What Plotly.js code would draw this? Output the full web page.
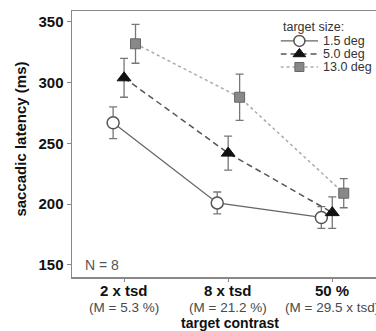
<!DOCTYPE html>
<html>
<head>
<meta charset="utf-8">
<script src="https://cdn.plot.ly/plotly-3.0.1.min.js"></script>
<style>html,body{margin:0;padding:0;background:#fff;}#chart{width:376px;height:331px;}</style>
</head>
<body>
<div id="chart"></div>
<script>
// ---- data ----
const categories = ['2 x tsd', '8 x tsd', '50 %'];
const categorySub = ['(M = 5.3 %)', '(M = 21.2 %)', '(M = 29.5 x tsd)'];
const seriesNames = ['1.5 deg', '5.0 deg', '13.0 deg'];
const lat_1_5 = [267, 201, 189];
const err_1_5 = [13, 9, 9];
const lat_5_0 = [304, 242, 193];
const err_5_0 = [16, 14, 13];
const lat_13_0 = [332, 288, 209];
const err_13_0 = [16, 19, 12];
const yTicks = [150, 200, 250, 300, 350];

const FONT = 'Liberation Sans, Arimo, Arial, sans-serif';
const offsets = [-0.105, 0, 0.11];
const styles = [
  {line:{color:'#666', width:1.3, dash:'solid'}, marker:{symbol:'circle', size:12, color:'#fff', line:{color:'#555', width:1.5}}},
  {line:{color:'#555', width:1.5, dash:'6px,4px'}, marker:{symbol:'triangle-up', size:12, color:'#111', line:{color:'#111', width:1}}},
  {line:{color:'#aaa', width:1.5, dash:'dot'}, marker:{symbol:'square', size:10, color:'#888', line:{color:'#666', width:1}}}
];
const vals = [lat_1_5, lat_5_0, lat_13_0];
const errs = [err_1_5, err_5_0, err_13_0];

const traces = vals.map((v, s) => ({
  type: 'scatter', mode: 'lines+markers', name: seriesNames[s],
  x: categories.map((c, i) => i + 1 + offsets[s]),
  y: v,
  error_y: {type:'data', array: errs[s], visible:true, color:'#777', thickness:1.3, width:4},
  line: styles[s].line, marker: styles[s].marker, showlegend:false, cliponaxis:false
}));

// custom compact legend key (layout decoration)
const legX0 = 0.0, legX1 = 1.0;
seriesNames.forEach((n, s) => {
  traces.push({
    type:'scatter', mode:'lines', x:[legX0, legX1], y:[s, s], xaxis:'x2', yaxis:'y2',
    line: styles[s].line, showlegend:false, hoverinfo:'skip'
  });
  traces.push({
    type:'scatter', mode:'markers', x:[(legX0+legX1)/2], y:[s], xaxis:'x2', yaxis:'y2',
    marker: Object.assign({}, styles[s].marker, {size: styles[s].marker.size - 1}), showlegend:false, hoverinfo:'skip'
  });
});

const annotations = [
  {text:'N = 8', xref:'paper', yref:'y', x:0.036, y:150, xanchor:'left', yanchor:'middle', showarrow:false,
   font:{family:FONT, size:14, color:'#555'}},
  {text:'<b>target contrast</b>', xref:'x', x:2.02, yref:'paper', y:-0.173, yanchor:'middle', xanchor:'center', showarrow:false,
   font:{family:FONT, size:14, color:'#111'}},
  {text:'<b>saccadic latency (ms)</b>', xref:'paper', x:-0.168, yref:'paper', y:0.52, textangle:-90,
   xanchor:'center', yanchor:'middle', showarrow:false, font:{family:FONT, size:15, color:'#111'}},
  {text:'target size:', xref:'paper', yref:'paper', x:0.686, y:0.975, xanchor:'left', yanchor:'top', showarrow:false,
   font:{family:FONT, size:12.5, color:'#333'}}
];
categories.forEach((c, i) => {
  annotations.push({text:'<b>' + c + '</b>', xref:'x', x:i + 1, yref:'paper', y:-0.0526, xanchor:'center', yanchor:'middle',
    showarrow:false, font:{family:FONT, size:15, color:'#111'}});
  annotations.push({text:categorySub[i], xref:'x', x:i + 1, yref:'paper', y:-0.113, xanchor:'center', yanchor:'middle',
    showarrow:false, font:{family:FONT, size:13.5, color:'#4a4a4a'}});
});
seriesNames.forEach((n, s) => {
  annotations.push({text:n, xref:'paper', yref:'y2', x:0.824, y:s, xanchor:'left', yanchor:'middle', showarrow:false,
    borderpad:0, font:{family:FONT, size:12.5, color:'#333'}});
});

const layout = {
  width:376, height:331,
  margin:{l:72, r:0, t:11, b:54},
  paper_bgcolor:'#fff', plot_bgcolor:'#fff',
  font:{family:FONT, color:'#111'},
  showlegend:false,
  xaxis:{
    range:[0.5, 3.42], tickmode:'array', tickvals:[1,2,3], showticklabels:false,
    ticks:'outside', ticklen:3, tickcolor:'#888', tickwidth:1,
    showline:true, linecolor:'#888', linewidth:1.5, mirror:true,
    showgrid:false, zeroline:false, fixedrange:true, automargin:false
  },
  yaxis:{
    range:[140, 359], tickmode:'array', tickvals: yTicks,
    ticks:'outside', ticklen:4, tickcolor:'#888', tickwidth:1,
    showline:true, linecolor:'#888', linewidth:1.5,
    showgrid:false, zeroline:false, fixedrange:true,
    tickfont:{family:FONT, size:15, color:'#111', weight:'bold'},
    automargin:false
  },
  xaxis2:{domain:[0.686, 0.81], range:[0,1], visible:false, fixedrange:true},
  yaxis2:{domain:[0.765, 0.912], range:[2.5, -0.5], visible:false, fixedrange:true, anchor:'x2'},
  annotations: annotations
};

Plotly.newPlot('chart', traces, layout, {displayModeBar:false, staticPlot:true});
</script>
</body>
</html>
